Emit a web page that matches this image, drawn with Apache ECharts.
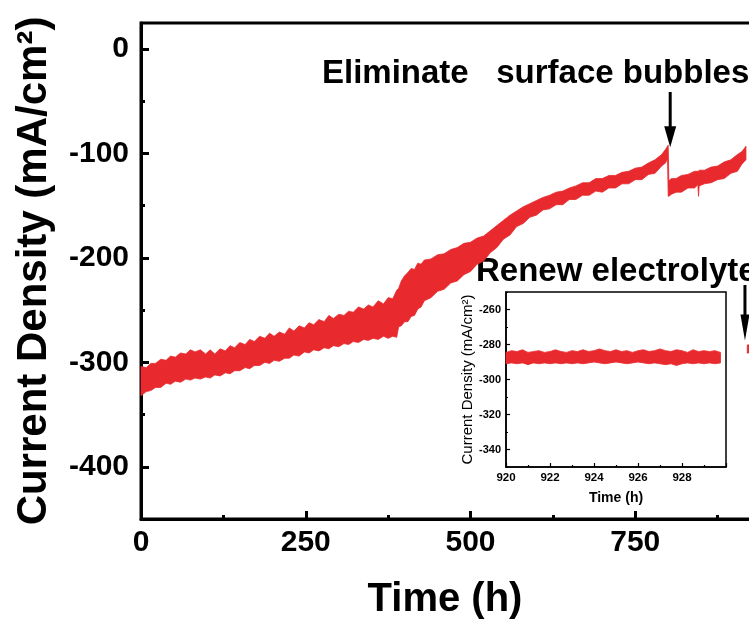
<!DOCTYPE html>
<html>
<head>
<meta charset="utf-8">
<script src="https://cdn.jsdelivr.net/npm/echarts@6/dist/echarts.min.js"></script>
<style>
  html, body { margin: 0; padding: 0; background: #fff; }
  #chart { width: 749px; height: 624px; }
</style>
</head>
<body>
<div id="chart"></div>
<script>
// Long-term chronoamperometry: current density band (upper / lower envelope) vs time
const mainTime = [0, 8, 15, 22, 30, 38, 45, 52, 60, 68, 75, 82, 90, 98, 105, 112, 120, 128, 135, 142,
  150, 158, 165, 172, 180, 188, 195, 202, 210, 218, 225, 232, 240, 248, 255, 262, 270, 278, 285, 292,
  300, 308, 315, 322, 330, 338, 345, 352, 360, 368, 375, 382, 388, 391, 395, 400, 405, 410, 415, 420,
  425, 430, 440, 450, 460, 470, 480, 490, 500, 510, 520, 530, 540, 550, 560, 570, 580, 590, 600, 610,
  620, 630, 640, 650, 660, 670, 680, 690, 700, 710, 720, 730, 740, 750, 760, 770, 780, 790, 796, 799,
  800, 801, 805, 812, 820, 830, 840, 845, 846, 847, 855, 865, 875, 885, 895, 905, 912, 918];
const mainUpper = [-304, -305, -301, -301, -297, -298, -294, -295, -291, -292, -288, -290, -288, -292, -288, -292, -287, -289, -284, -286,
  -281, -283, -278, -280, -275, -277, -272, -275, -271, -273, -267, -270, -265, -267, -262, -264, -259, -261, -255, -258,
  -254, -255, -251, -252, -247, -249, -245, -247, -241, -244, -238, -239, -231, -229, -222, -217, -214, -210, -211, -205,
  -206, -202, -201, -197, -196, -192, -190, -186, -185, -181, -179, -174, -169, -164, -159, -155, -151, -148, -145, -142,
  -140, -137, -136, -133, -131, -128, -128, -124, -124, -121, -121, -118, -117, -114, -113, -109, -106, -101, -96, -93,
  -92, -126, -124, -124, -121, -120, -117, -117, -117, -116, -116, -113, -112, -108, -106, -101, -98, -93];
const mainLower = [-332, -328, -327, -324, -324, -320, -321, -318, -319, -316, -317, -315, -316, -314, -315, -312, -313, -310, -311, -308,
  -308, -305, -306, -303, -303, -300, -301, -298, -299, -296, -296, -293, -294, -290, -291, -288, -289, -286, -287, -284,
  -285, -282, -283, -280, -281, -278, -279, -277, -278, -275, -277, -275, -276, -266, -265, -261, -261, -256, -255, -249,
  -247, -241, -238, -232, -230, -224, -222, -216, -213, -206, -203, -195, -190, -182, -178, -170, -167, -161, -159, -154,
  -153, -149, -149, -144, -144, -140, -140, -136, -137, -133, -133, -129, -129, -125, -125, -120, -119, -112, -109, -105,
  -141, -141, -139, -137, -137, -133, -133, -130, -141, -131, -129, -128, -125, -124, -119, -117, -110, -106];

// After renewing the electrolyte (also shown in the inset)
const renewTime = [920, 920.25, 920.5, 920.75, 921, 921.25, 921.5, 921.75, 922, 922.25, 922.5, 922.75, 923, 923.25,
  923.5, 923.75, 924, 924.25, 924.5, 924.75, 925, 925.25, 925.5, 925.75, 926, 926.25, 926.5, 926.75,
  927, 927.25, 927.5, 927.75, 928, 928.25, 928.5, 928.75, 929, 929.25, 929.5, 929.75];
const renewUpper = [-284.5, -283.5, -284, -283, -284.5, -284, -283.5, -284.5, -284, -283, -284, -284.5, -283.5, -284,
  -283, -284, -283.5, -282.5, -283.5, -284, -283, -284, -283.5, -284.5, -283.5, -283, -284, -283.5,
  -282.5, -283.5, -284, -283, -283.5, -284.5, -283, -284, -283.5, -284, -283.5, -284.5];
const renewLower = [-291, -290.5, -291, -290.5, -291.5, -290.5, -291, -290.5, -291, -290.5, -291, -290.5, -291, -290.5,
  -291, -290.5, -290, -290.5, -291, -290.5, -290, -290.5, -291, -290.5, -290, -290.5, -291, -290.5,
  -291, -291.5, -291, -292, -291, -290.5, -291, -290.5, -291, -290.5, -291, -290.5];

// Tick values
const mainXTicks = [0, 250, 500, 750, 1000];
const mainYMajor = [-400, -300, -200, -100, 0];
const mainYMinor = [-450, -350, -250, -150, -50];
const insetYMajor = [-340, -320, -300, -280, -260];
const insetYMinor = [-350, -330, -310, -290, -270, -250];

const RED = '#e8292d';
const FONT = '"Liberation Sans", Arial, sans-serif';

function bandRenderer(times, upper, lower) {
  return function (params, api) {
    const pts = [];
    for (let i = 0; i < times.length; i++) pts.push(api.coord([times[i], upper[i]]));
    for (let i = times.length - 1; i >= 0; i--) pts.push(api.coord([times[i], lower[i]]));
    return {
      type: 'polygon',
      shape: { points: pts },
      style: { fill: RED, stroke: RED, lineWidth: 0.8 }
    };
  };
}

const chart = echarts.init(document.getElementById('chart'), null, { renderer: 'canvas' });

const option = {
  animation: false,
  backgroundColor: '#fff',
  textStyle: { fontFamily: FONT, color: '#000' },
  grid: [
    { left: 141, top: 23, width: 659, bottom: 105, outerBoundsMode: 'none', containLabel: false,
      show: true, borderColor: '#000', borderWidth: 3, backgroundColor: 'transparent' },
    { left: 506, top: 292, width: 220, bottom: 157, outerBoundsMode: 'none', containLabel: false,
      show: true, borderColor: '#000', borderWidth: 1.5, backgroundColor: 'transparent' }
  ],
  xAxis: [
    {
      gridIndex: 0, type: 'value', min: mainXTicks[0], max: mainXTicks[mainXTicks.length - 1], interval: 250,
      axisLine: { onZero: false, lineStyle: { color: '#000', width: 3 } },
      axisTick: { inside: true, length: 8, lineStyle: { width: 3, color: '#000' } },
      minorTick: { show: true, splitNumber: 2, length: 4, lineStyle: { width: 3, color: '#000' } },
      splitLine: { show: false },
      axisLabel: { fontSize: 30, fontWeight: 'bold', color: '#000', margin: 9, fontFamily: FONT,
        formatter: v => String(v) }
    },
    {
      gridIndex: 1, type: 'value', min: 920, max: 930, interval: 2,
      axisLine: { onZero: false, lineStyle: { color: '#000', width: 1.5 } },
      axisTick: { inside: true, length: 4, lineStyle: { width: 1.2, color: '#000' } },
      minorTick: { show: true, splitNumber: 2, length: 2, lineStyle: { width: 1.2, color: '#000' } },
      splitLine: { show: false },
      axisLabel: { fontSize: 11.5, fontWeight: 'bold', color: '#000', margin: 5, showMaxLabel: false, fontFamily: FONT,
        formatter: v => String(v) },
      name: 'Time (h)', nameLocation: 'middle', nameGap: 24,
      nameTextStyle: { fontSize: 14, fontWeight: 'bold', color: '#000', fontFamily: FONT }
    }
  ],
  yAxis: [
    {
      gridIndex: 0, type: 'value', min: -450, max: 25,
      axisLine: { onZero: false, lineStyle: { color: '#000', width: 3 } },
      axisTick: { inside: true, length: 8, customValues: mainYMajor, lineStyle: { width: 3, color: '#000' } },
      splitLine: { show: false },
      axisLabel: { customValues: mainYMajor, fontSize: 30, fontWeight: 'bold', color: '#000', margin: 12, fontFamily: FONT },
      name: 'Current Density (mA/cm²)', nameLocation: 'middle', nameRotate: 90, nameGap: 86,
      nameTextStyle: { fontSize: 42, fontWeight: 'bold', color: '#000', fontFamily: FONT }
    },
    {
      gridIndex: 0, type: 'value', min: -450, max: 25, position: 'left',
      axisLine: { show: false, onZero: false },
      axisTick: { inside: true, length: 4, customValues: mainYMinor, lineStyle: { width: 3, color: '#000' } },
      axisLabel: { show: false },
      splitLine: { show: false }
    },
    {
      gridIndex: 1, type: 'value', min: -350, max: -250,
      axisLine: { onZero: false, lineStyle: { color: '#000', width: 1.5 } },
      axisTick: { inside: true, length: 4, customValues: insetYMajor, lineStyle: { width: 1.2, color: '#000' } },
      splitLine: { show: false },
      axisLabel: { customValues: insetYMajor, fontSize: 11, fontWeight: 'bold', color: '#000', margin: 5, fontFamily: FONT },
      name: 'Current Density (mA/cm²)', nameLocation: 'middle', nameRotate: 90, nameGap: 29,
      nameTextStyle: { fontSize: 15, color: '#000', fontFamily: FONT }
    },
    {
      gridIndex: 1, type: 'value', min: -350, max: -250, position: 'left',
      axisLine: { show: false, onZero: false },
      axisTick: { inside: true, length: 2, customValues: insetYMinor, lineStyle: { width: 1.2, color: '#000' } },
      axisLabel: { show: false },
      splitLine: { show: false }
    }
  ],
  series: [
    {
      name: 'before renewal', type: 'custom', xAxisIndex: 0, yAxisIndex: 0,
      data: [[mainTime[0], mainUpper[0]]],
      renderItem: bandRenderer(mainTime, mainUpper, mainLower)
    },
    {
      name: 'after renewal', type: 'custom', xAxisIndex: 0, yAxisIndex: 0,
      data: [[renewTime[0], renewUpper[0]]],
      renderItem: bandRenderer(renewTime, renewUpper, renewLower)
    },
    {
      name: 'inset', type: 'custom', xAxisIndex: 1, yAxisIndex: 2,
      data: [[renewTime[0], renewUpper[0]]],
      renderItem: bandRenderer(renewTime, renewUpper, renewLower)
    }
  ]
};

chart.setOption(option);

// Annotation arrows anchored to the events on the time axis
function arrow(tipX, tipY, topY, headLen, headHalf, width) {
  return [
    { type: 'line', shape: { x1: tipX, y1: topY, x2: tipX, y2: tipY - headLen + 2 }, style: { stroke: '#000', lineWidth: width } },
    { type: 'polygon', shape: { points: [[tipX - headHalf, tipY - headLen], [tipX + headHalf, tipY - headLen], [tipX, tipY]] }, style: { fill: '#000' } }
  ];
}
const bubbleTip = chart.convertToPixel({ xAxisIndex: 0, yAxisIndex: 0 }, [800, -92]);
const renewTip = chart.convertToPixel({ xAxisIndex: 0, yAxisIndex: 0 }, [918, -283]);

chart.setOption({
  graphic: [
    { type: 'text', left: 322, top: 57, style: { text: 'Eliminate   surface bubbles', font: 'bold 33px ' + FONT, fill: '#000' } },
    { type: 'text', left: 476, top: 255, style: { text: 'Renew electrolyte', font: 'bold 33px ' + FONT, fill: '#000' } },
    { type: 'text', x: 445, y: 600, style: { text: 'Time (h)', font: 'bold 40px ' + FONT, fill: '#000', align: 'center', verticalAlign: 'middle' } },
    ...arrow(bubbleTip[0] + 2, bubbleTip[1] + 2, 92, 21, 6, 3),
    ...arrow(renewTip[0] - 1, renewTip[1] - 4, 285, 26, 4.5, 3)
  ]
});
</script>
</body>
</html>
